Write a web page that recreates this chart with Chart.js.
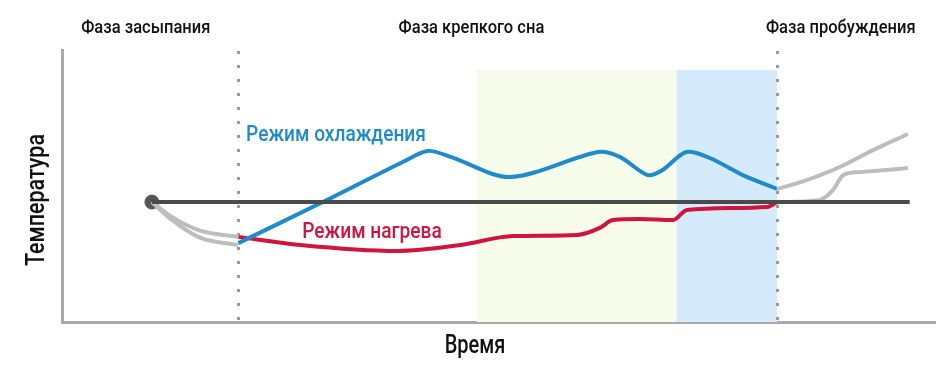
<!DOCTYPE html>
<html>
<head>
<meta charset="utf-8">
<script src="https://cdn.jsdelivr.net/npm/chart.js@4.4.1/dist/chart.umd.min.js"></script>
<style>
  html, body { margin: 0; padding: 0; background: #fff; }
  #wrap { width: 950px; height: 365px; }
</style>
</head>
<body>
<div id="wrap"><canvas id="myChart"></canvas></div>
<script>
'use strict';

// time axis 0..100, temperature axis 0..100 (schematic units)
let coolX = [20.2, 30.7, 39.2, 41.9, 44.6, 51.3, 61.4, 63.9, 67.1, 68.8, 71.5, 74.2, 78.2, 81.9];
let coolY = [29.0, 45.4, 59.1, 62.9, 60.6, 53.3, 62.5, 60.7, 54.0, 55.9, 62.5, 60.3, 53.7, 48.9];

let heatX = [20.2, 27.3, 38.4, 45.6, 51.7, 59.0, 61.6, 63.1, 66.2, 70.0, 71.6, 80.8, 81.9];
let heatY = [31.3, 28.3, 26.1, 28.3, 31.6, 32.0, 34.6, 37.5, 37.9, 37.5, 41.2, 42.3, 44.1];

let fallLowX = [10.3, 12.4, 15.8, 20.2];
let fallLowY = [44.1, 38.0, 31.0, 28.3];
let fallHighX = [10.3, 12.4, 15.8, 20.2];
let fallHighY = [44.1, 39.0, 33.6, 31.3];

let wakeUpX = [81.9, 85.3, 89.1, 92.9, 96.9];
let wakeUpY = [48.9, 52.2, 57.0, 63.2, 69.1];
let wakeLowX = [81.9, 86.8, 88.3, 89.5, 91.4, 96.9];
let wakeLowY = [44.1, 44.9, 48.5, 54.0, 55.1, 56.6];

let baseX = [10.3, 97.1];
let baseY = [44.1, 44.1];

let phaseBounds = [20.2, 81.9];
let deepBand = [47.5, 70.4];
let coolBand = [70.4, 81.9];
let bandTop = 92.6;

let phaseNames = ['Фаза засыпания', 'Фаза крепкого сна', 'Фаза пробуждения'];
let phaseCenters = [9.6, 46.9, 89.2];

function pts(xs, ys) {
  let out = [];
  for (let i = 0; i < xs.length; i++) {
    out.push({ x: xs[i], y: ys[i] });
  }
  return out;
}

function lineSet(xs, ys, color) {
  return {
    data: pts(xs, ys),
    borderColor: color,
    borderWidth: 4,
    pointRadius: 0,
    cubicInterpolationMode: 'monotone',
    showLine: true,
    fill: false
  };
}

function drawText(ctx, text, x, y, size, color, squeeze, rot) {
  ctx.save();
  ctx.translate(x, y);
  if (rot) ctx.rotate(rot);
  ctx.scale(squeeze, 1);
  ctx.font = '500 ' + size + 'px Roboto';
  ctx.fillStyle = color;
  ctx.textAlign = 'center';
  ctx.textBaseline = 'middle';
  ctx.fillText(text, 0, 0);
  ctx.restore();
}

const decor = {
  id: 'decor',
  beforeDatasetsDraw(chart) {
    const ctx = chart.ctx;
    const xs = chart.scales.x;
    const ys = chart.scales.y;
    const area = chart.chartArea;
    ctx.save();
    ctx.fillStyle = '#f7fbea';
    ctx.fillRect(xs.getPixelForValue(deepBand[0]), ys.getPixelForValue(bandTop),
      xs.getPixelForValue(deepBand[1]) - xs.getPixelForValue(deepBand[0]),
      area.bottom - ys.getPixelForValue(bandTop));
    ctx.fillStyle = '#d5eafb';
    ctx.fillRect(xs.getPixelForValue(coolBand[0]), ys.getPixelForValue(bandTop),
      xs.getPixelForValue(coolBand[1]) - xs.getPixelForValue(coolBand[0]),
      area.bottom - ys.getPixelForValue(bandTop));

    // dotted phase borders
    ctx.strokeStyle = '#9a9a9a';
    ctx.lineWidth = 3;
    ctx.setLineDash([3, 11]);
    for (let i = 0; i < phaseBounds.length; i++) {
      let px = Math.round(xs.getPixelForValue(phaseBounds[i])) + 0.5;
      ctx.beginPath();
      ctx.moveTo(px, area.top + 1);
      ctx.lineTo(px, area.bottom);
      ctx.stroke();
    }
    ctx.restore();
  },
  afterDraw(chart) {
    const ctx = chart.ctx;
    const xs = chart.scales.x;
    for (let i = 0; i < phaseNames.length; i++) {
      drawText(ctx, phaseNames[i], xs.getPixelForValue(phaseCenters[i]), 28, 19, '#111', 0.87, 0);
    }
    drawText(ctx, 'Режим охлаждения', 336, 135, 22, '#1f8bcb', 0.87, 0);
    drawText(ctx, 'Режим нагрева', 372, 232, 22, '#d0143f', 0.87, 0);
    drawText(ctx, 'Время', 475, 347, 25, '#111', 0.8, 0);
    drawText(ctx, 'Температура', 38, 200, 25, '#111', 0.86, -Math.PI / 2);
  }
};

let cool = lineSet(coolX, coolY, '#1f8bcb');
cool.cubicInterpolationMode = 'default';
cool.tension = 0.3;

let ctx = document.getElementById('myChart').getContext('2d');
let myChart = new Chart(ctx, {
  type: 'scatter',
  data: {
    datasets: [
      lineSet(baseX, baseY, '#4a4a4a'),
      lineSet(fallLowX, fallLowY, '#bdbdbd'),
      lineSet(fallHighX, fallHighY, '#bdbdbd'),
      lineSet(wakeUpX, wakeUpY, '#bdbdbd'),
      lineSet(wakeLowX, wakeLowY, '#bdbdbd'),
      cool,
      lineSet(heatX, heatY, '#d0143f'),
      {
        data: [{ x: baseX[0], y: baseY[0] }],
        pointRadius: 7,
        pointBackgroundColor: '#555',
        pointBorderColor: '#555',
        showLine: false
      }
    ]
  },
  plugins: [decor],
  options: {
    responsive: true,
    maintainAspectRatio: false,
    animation: false,
    layout: { padding: { left: 62, right: 15, top: 50, bottom: 43 } },
    plugins: {
      legend: { display: false },
      tooltip: { enabled: false }
    },
    scales: {
      x: {
        type: 'linear',
        min: 0,
        max: 100,
        grid: { display: false, drawTicks: false },
        ticks: { display: false },
        border: { display: true, color: '#a9a9a9', width: 3 }
      },
      y: {
        type: 'linear',
        min: 0,
        max: 100,
        grid: { display: false, drawTicks: false },
        ticks: { display: false },
        border: { display: true, color: '#a9a9a9', width: 3 }
      }
    }
  }
});
</script>
</body>
</html>
